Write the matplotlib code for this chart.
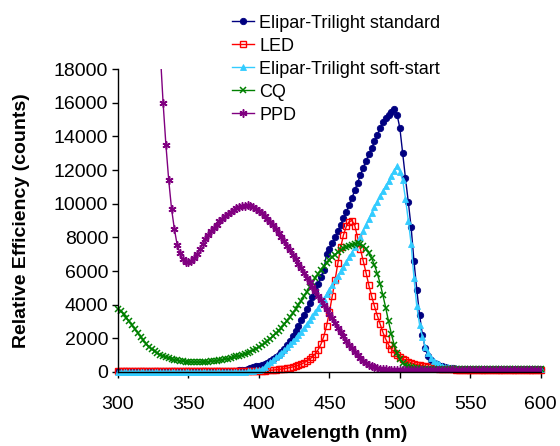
import numpy as np
import matplotlib
matplotlib.use("Agg")
import matplotlib.pyplot as plt

plt.rcParams['font.family'] = ['Liberation Sans', 'DejaVu Sans']

# Wavelength grid (nm)
wl = np.arange(300, 602, 2)
wl_ppd = np.arange(330, 602, 2)

series_names = ["Elipar-Trilight standard", "LED", "Elipar-Trilight soft-start", "CQ", "PPD"]

standard = [
    30, 30, 30, 30, 30, 30, 30, 30, 30, 30,
    30, 30, 30, 30, 30, 30, 30, 30, 30, 30,
    30, 30, 30, 30, 30, 30, 30, 30, 30, 30,
    30, 30, 30, 30, 30, 30, 30, 40, 40, 45,
    50, 60, 70, 90, 110, 140, 180, 230, 280, 330,
    350, 410, 480, 560, 660, 770, 890, 1030, 1190, 1370,
    1600, 1860, 2140, 2430, 2740, 3060, 3400, 3750, 4110, 4480,
    4860, 5250, 5650, 6050, 7000, 7300, 7650, 8000, 8350, 8750,
    9150, 9500, 9950, 10350, 10800, 11250, 11700, 12150, 12550, 12950,
    13300, 13700, 14100, 14500, 14850, 15100, 15300, 15450, 15650, 15300,
    14500, 13000, 11500, 10100, 8600, 6600, 4900, 3400, 2200, 1400,
    950, 700, 550, 450, 380, 330, 290, 260, 240, 220,
    200, 190, 180, 170, 170, 160, 160, 160, 160, 160,
    160, 160, 160, 160, 160, 160, 160, 160, 160, 160,
    160, 160, 160, 160, 160, 160, 160, 160, 160, 160,
    160,
]

led = [
    40, 40, 40, 40, 40, 40, 40, 40, 40, 40,
    40, 40, 40, 40, 40, 40, 40, 40, 40, 40,
    40, 40, 40, 40, 40, 40, 40, 40, 40, 40,
    40, 40, 40, 40, 40, 40, 40, 40, 40, 40,
    40, 40, 40, 40, 40, 45, 45, 50, 50, 55,
    60, 70, 80, 90, 100, 110, 130, 150, 170, 200,
    230, 260, 300, 340, 400, 470, 550, 650, 760, 900,
    1080, 1320, 1650, 2100, 2750, 3550, 4500, 5450, 6450, 7400,
    8150, 8650, 8930, 9000, 8700, 8000, 7300, 6600, 5900, 5150,
    4500, 3900, 3350, 2850, 2350, 1950, 1620, 1350, 1150, 1000,
    880, 780, 700, 620, 550, 490, 440, 400, 360, 330,
    300, 270, 240, 220, 200, 180, 170, 160, 150, 150,
    140, 140, 140, 140, 140, 140, 140, 140, 140, 140,
    140, 140, 140, 140, 140, 140, 140, 140, 140, 140,
    140, 140, 140, 140, 140, 140, 140, 140, 140, 140,
    140,
]

soft_start = [
    20, 20, 20, 20, 20, 20, 20, 20, 20, 20,
    20, 20, 20, 20, 20, 20, 20, 20, 20, 20,
    20, 20, 20, 20, 20, 20, 20, 20, 20, 20,
    20, 20, 20, 20, 20, 20, 20, 20, 20, 20,
    20, 20, 20, 20, 20, 25, 30, 40, 60, 90,
    130, 200, 320, 450, 580, 720, 860, 1000, 1140, 1290,
    1460, 1640, 1830, 2020, 2200, 2400, 2620, 2840, 3070, 3310,
    3560, 3820, 4090, 4360, 4630, 4900, 5170, 5440, 5710, 5980,
    6250, 6530, 6810, 7100, 7400, 7720, 8050, 8400, 8750, 9100,
    9450, 9800, 10120, 10440, 10750, 11050, 11350, 11650, 11950, 12250,
    11900, 11400, 10300, 9000, 7600, 5600, 3900, 2800, 2100, 1500,
    1100, 850, 680, 560, 460, 380, 320, 280, 250, 230,
    210, 200, 190, 190, 180, 180, 180, 180, 180, 180,
    180, 180, 180, 180, 180, 180, 180, 180, 180, 180,
    180, 180, 180, 180, 180, 180, 180, 180, 180, 180,
    180,
]

cq = [
    3750, 3600, 3420, 3220, 3000, 2780, 2550, 2320, 2100, 1880,
    1680, 1500, 1350, 1220, 1110, 1020, 940, 870, 810, 760,
    720, 690, 660, 640, 620, 600, 590, 580, 580, 580,
    590, 600, 610, 630, 650, 670, 700, 730, 760, 800,
    840, 880, 920, 970, 1020, 1080, 1140, 1210, 1290, 1380,
    1480, 1590, 1710, 1840, 1980, 2130, 2290, 2460, 2640, 2830,
    3040, 3260, 3490, 3730, 3980, 4240, 4510, 4780, 5050, 5320,
    5580, 5830, 6070, 6290, 6490, 6670, 6830, 6980, 7110, 7230,
    7340, 7430, 7510, 7570, 7610, 7640, 7600, 7500, 7330, 7080,
    6750, 6350, 5850, 5250, 4550, 3800, 3000, 2250, 1600, 1100,
    750, 520, 400, 330, 280, 240, 210, 190, 180, 170,
    160, 160, 160, 160, 160, 160, 160, 160, 160, 160,
    160, 160, 160, 160, 160, 160, 160, 160, 160, 160,
    160, 160, 160, 160, 160, 160, 160, 160, 160, 160,
    160, 160, 160, 160, 160, 160, 160, 160, 160, 160,
    160,
]

ppd = [
    19000, 16000, 13500, 11400, 9700, 8500, 7550, 7050, 6700, 6560,
    6520, 6580, 6750, 7000, 7300, 7600, 7900, 8150, 8350, 8550,
    8750, 8950, 9100, 9250, 9400, 9520, 9630, 9730, 9800, 9850,
    9880, 9900, 9870, 9800, 9700, 9580, 9440, 9290, 9120, 8930,
    8720, 8500, 8270, 8020, 7760, 7500, 7230, 6960, 6690, 6420,
    6150, 5880, 5610, 5340, 5070, 4800, 4530, 4260, 3990, 3720,
    3450, 3180, 2910, 2640, 2380, 2120, 1870, 1630, 1400, 1190,
    1000, 830, 680, 550, 440, 350, 280, 230, 190, 170,
    150, 140, 140, 140, 140, 140, 140, 140, 140, 140,
    140, 140, 140, 140, 140, 140, 140, 140, 140, 140,
    140, 140, 140, 140, 140, 140, 140, 140, 140, 140,
    140, 140, 140, 140, 140, 140, 140, 140, 140, 140,
    140, 140, 140, 140, 140, 140, 140, 140, 140, 140,
    140, 140, 140, 140, 140,
    140,
]

x_ticks = [300, 350, 400, 450, 500, 550, 600]
y_ticks = [0, 2000, 4000, 6000, 8000, 10000, 12000, 14000, 16000, 18000]

fig = plt.figure(figsize=(5.6, 4.46), dpi=100)
ax = fig.add_axes([0.2107, 0.166, 0.755, 0.679])

ax.plot(wl, standard, color='#000080', marker='o', ms=4.6, mew=0.6, lw=1.0,
        label=series_names[0], clip_on=False)
ax.plot(wl, led, color='#FF0000', marker='s', ms=4.4, mfc='none', mew=1.0, lw=1.0,
        label=series_names[1], clip_on=False)
ax.plot(wl, soft_start, color='#33CCFF', marker='^', ms=4.8, mew=0.6, lw=1.0,
        label=series_names[2], clip_on=False)
ax.plot(wl, cq, color='#008000', marker='x', ms=4.6, mew=1.1, lw=1.0,
        label=series_names[3], clip_on=False)
ax.plot(wl_ppd, ppd, color='#800080', marker=(6, 2, 0), ms=5.8, mew=1.1, lw=1.0,
        label=series_names[4])

ax.set_xlim(300, 600)
ax.set_ylim(0, 18000)
ax.set_xticks(x_ticks)
ax.set_yticks(y_ticks)
ax.set_xticklabels([str(v) for v in x_ticks])
ax.set_yticklabels([str(v) for v in y_ticks])

for s in ['top', 'right']:
    ax.spines[s].set_visible(False)
for s in ['left', 'bottom']:
    ax.spines[s].set_linewidth(1.0)
    ax.spines[s].set_color('black')

ax.tick_params(axis='both', direction='out', length=4, width=1.0, labelsize=14)
ax.tick_params(axis='x', pad=13)
ax.tick_params(axis='y', pad=3)

ax.set_xlabel('Wavelength (nm)', fontsize=14, fontweight='bold', labelpad=9)
ax.set_ylabel('Relative Efficiency (counts)', fontsize=14, fontweight='bold', labelpad=17)

fig.legend(loc='upper left', bbox_to_anchor=(0.408, 0.975), frameon=False,
           fontsize=13, labelspacing=0.33, handlelength=1.2, handletextpad=0.3,
           borderaxespad=0, borderpad=0.2, numpoints=1)

fig.savefig('out.png', dpi=100)
